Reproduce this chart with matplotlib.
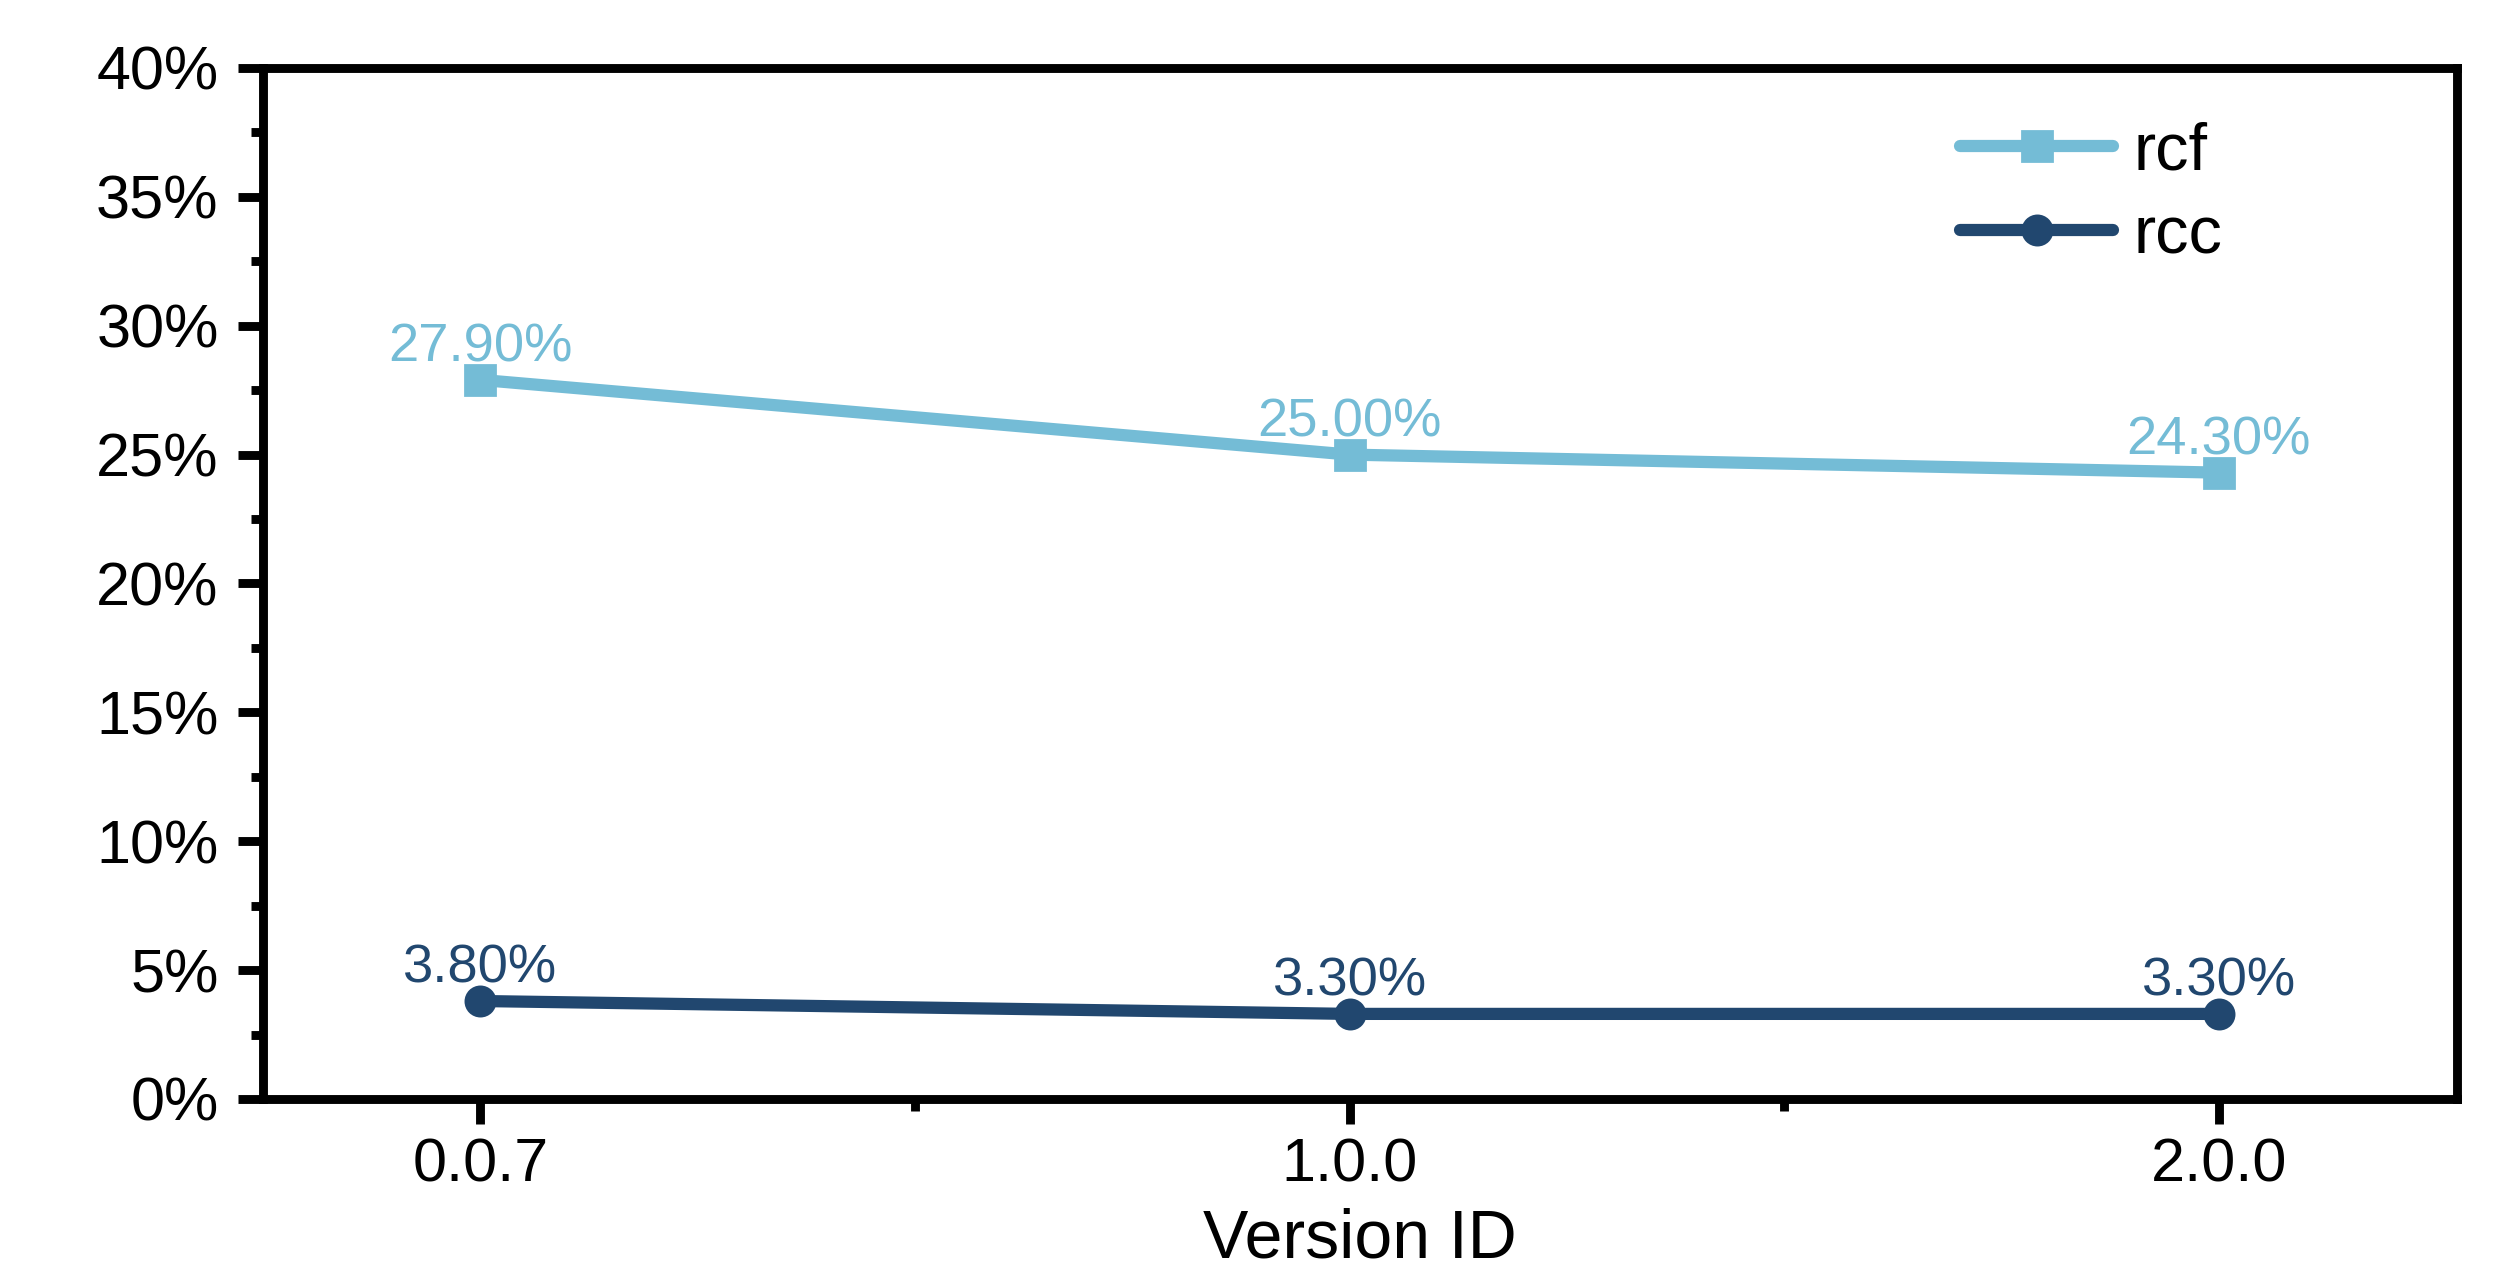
import numpy as np
import matplotlib.pyplot as plt
from matplotlib.ticker import MultipleLocator, FuncFormatter

# ========================= DATA =========================
versions = ['0.0.7', '1.0.0', '2.0.0']
rcf = [27.9, 25.0, 24.3]
rcc = [3.8, 3.3, 3.3]

c_rcf = '#74BCD6'
c_rcc = '#21476F'

plt.rcParams['font.family'] = ['Liberation Sans', 'DejaVu Sans']

# ========================= PLOT =========================
fig = plt.figure(figsize=(12.55, 6.39), dpi=200)
ax = fig.add_axes([0.1048, 0.1401, 0.8741, 0.8067])

x = np.arange(len(versions))
ax.plot(x, rcf, marker='s', color=c_rcf, lw=4.4, ms=10.5, label='rcf',
        solid_capstyle='round')
ax.plot(x, rcc, marker='o', color=c_rcc, lw=4.4, ms=10.5, label='rcc',
        solid_capstyle='round')

for xi, v in zip(x, rcf):
    ax.annotate(f'{v:.2f}%', (xi, v), xytext=(0, 6.5), textcoords='offset points',
                ha='center', va='baseline', fontsize=19.6, color=c_rcf)
for xi, v in zip(x, rcc):
    ax.annotate(f'{v:.2f}%', (xi, v), xytext=(0, 6.5), textcoords='offset points',
                ha='center', va='baseline', fontsize=19.6, color=c_rcc)

ax.set_xlim(-0.25, 2.274)
ax.set_ylim(0, 40)
ax.set_xticks(x)
ax.set_xticklabels(versions)
ax.xaxis.set_minor_locator(MultipleLocator(0.5))
ax.yaxis.set_major_locator(MultipleLocator(5))
ax.yaxis.set_minor_locator(MultipleLocator(2.5))
ax.yaxis.set_major_formatter(FuncFormatter(lambda v, p: f'{v:.0f}%'))

for s in ax.spines.values():
    s.set_linewidth(3.2)
ax.tick_params(which='major', direction='out', length=9, width=3.2,
               labelsize=22, top=False, right=False)
ax.tick_params(which='minor', direction='out', length=4.3, width=3.2,
               top=False, right=False)
ax.tick_params(axis='x', which='major', pad=5)
ax.tick_params(axis='y', which='major', pad=7)

ax.set_xlabel('Version ID', fontsize=24.5, labelpad=4.5)

ax.legend(loc='upper left', bbox_to_anchor=(0.7735, 0.948), frameon=False,
          fontsize=24, handlelength=2.3, handletextpad=0.3, labelspacing=0.33,
          borderpad=0, borderaxespad=0)

plt.savefig('out.png', dpi=200)
